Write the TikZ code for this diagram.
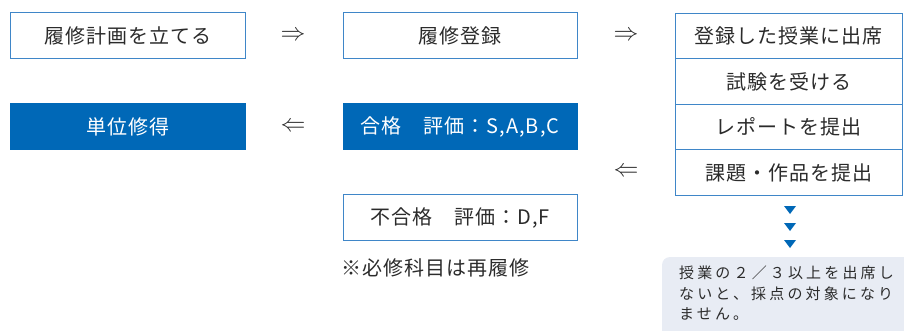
\documentclass[tikz,border=0pt]{standalone}
\usepackage{fontspec}
\setmainfont{Noto Sans CJK JP}
\usetikzlibrary{positioning,shapes.geometric}
\definecolor{stepBlue}{HTML}{0068B7}
\definecolor{lineBlue}{HTML}{3F86C8}
\definecolor{noteGray}{HTML}{E8ECF4}
\definecolor{inkGray}{HTML}{2B2B2B}
\newcommand{\boxTextSty}{\fontsize{20}{24}\selectfont\addfontfeatures{LetterSpace=5}}
\newcommand{\noteTextSty}{\fontsize{15}{20.5}\selectfont\addfontfeatures{LetterSpace=21}}
\tikzset{
  stepbox/.style={draw=lineBlue, line width=1pt, fill=white, text=inkGray,
    minimum width=235pt, minimum height=46pt, inner sep=0pt, outer sep=0pt, font=\boxTextSty},
  donebox/.style={stepbox, draw=stepBlue, fill=stepBlue, text=white},
  taskbox/.style={stepbox, minimum width=227pt, minimum height=45.5pt},
  flowmark/.style={text=inkGray, font=\fontsize{25}{25}\selectfont},
  downmark/.style={isosceles triangle, isosceles triangle stretches, shape border rotate=-90,
    fill=stepBlue, minimum width=12pt, minimum height=8pt, inner sep=0pt}
}

\begin{document}
\begin{tikzpicture}[x=1pt, y=-1pt]

		% page
		\useasboundingbox (0,0) rectangle (904,331);

		% first row
		\node[stepbox] (plan) at (127.5,36) {履修計画を立てる};
		\node[flowmark] (arrPlan) at (293,36) {$\Rightarrow$};
		\node[stepbox, minimum width=234pt] (enrol) at (460,36) {履修登録};
		\node[flowmark] (arrEnrol) at (626,36) {$\Rightarrow$};

		% course work column
		\node[taskbox] (attend) at (788.5,36) {登録した授業に出席};
		\node[taskbox, below=0pt of attend] (exam) {試験を受ける};
		\node[taskbox, below=0pt of exam] (report) {レポートを提出};
		\node[taskbox, below=0pt of report] (works) {課題・作品を提出};

		% results
		\node[flowmark] (arrWorks) at (626,172) {$\Leftarrow$};
		\node[donebox, minimum width=234pt] (pass) at (460,126.5) {合格　評価：S,A,B,C};
		\node[flowmark] (arrPass) at (293,127) {$\Leftarrow$};
		\node[donebox] (credit) at (127.5,126.5) {単位修得};
		\node[stepbox, minimum width=234pt] (fail) at (460,217.5) {不合格　評価：D,F};
		\node[anchor=west, text=inkGray, font=\boxTextSty, inner sep=0pt] (retake) at (341,268) {※必修科目は再履修};

		% marks
		\node[downmark] (mark1) at (790,209) {};
		\node[downmark] (mark2) at (790,226) {};
		\node[downmark] (mark3) at (790,243) {};

		% note
		\fill[noteGray, rounded corners=8pt] (662,257) rectangle (930,360);
		\node[anchor=north west, align=left, text=inkGray, font=\noteTextSty, inner sep=0pt] (note) at (679,266)
			{授業の２／３以上を出席し\\ないと、採点の対象になり\\ません。};

\end{tikzpicture}
\end{document}
